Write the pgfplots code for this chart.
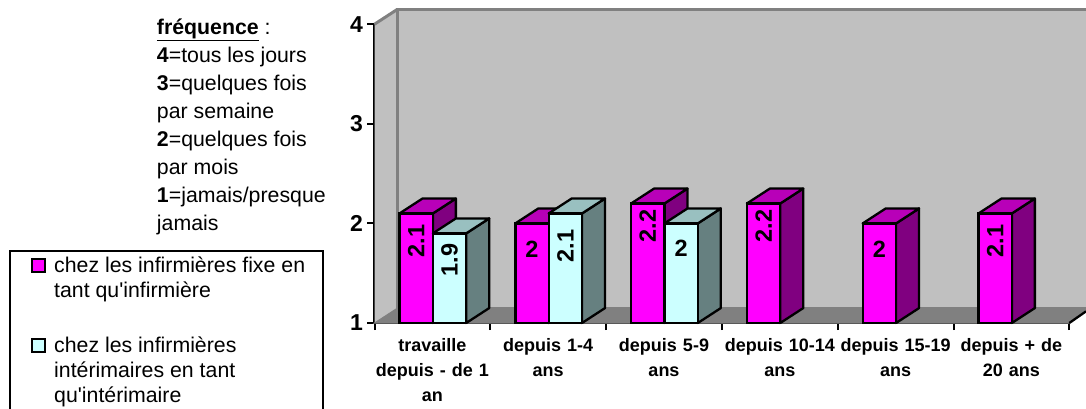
\documentclass[border=0pt]{standalone}
\usepackage{pgfplots}
\pgfplotsset{compat=1.18}
\usepackage{fontspec}
\setmainfont{Liberation Sans}
\newfontfamily\plainfont{Liberation Sans}
\definecolor{wall}{HTML}{C0C0C0}
\definecolor{floorc}{HTML}{808080}
\definecolor{mfront}{HTML}{FF00FF}
\definecolor{mside}{HTML}{800080}
\definecolor{mtop}{HTML}{B800B8}
\definecolor{cfront}{HTML}{CCFFFF}
\definecolor{cside}{HTML}{668080}
\definecolor{ctop}{HTML}{99C0C0}
\pgfmathsetmacro\dx{0.1986}
\pgfmathsetmacro\dy{0.15}
% #1 left x, #2 right x, #3 value, #4 side colour, #5 top colour
\newcommand\depthfaces[5]{%
  \pgfmathsetmacro\xa{#1+\dx}\pgfmathsetmacro\xb{#2+\dx}\pgfmathsetmacro\vb{#3+\dy}\pgfmathsetmacro\fb{1+\dy}%
  \addplot[forget plot,mark=none,draw=black,line width=2.3pt,line join=round,fill=#4] coordinates {(#2,1) (\xb,\fb) (\xb,\vb) (#2,#3)} -- cycle;
  \addplot[forget plot,mark=none,draw=black,line width=2.3pt,line join=round,fill=#5] coordinates {(#1,#3) (#2,#3) (\xb,\vb) (\xa,\vb)} -- cycle;
}
\begin{document}
\begin{tikzpicture}[x=1pt,y=1pt]
\path[use as bounding box] (0,0) rectangle (1086,408);
\begin{axis}[
  at={(374.5pt,85pt)},anchor=south west,
  scale only axis,width=694.8pt,height=298.8pt,
  xmin=0,xmax=6,ymin=1,ymax=4,
  clip=false,
  y coord trafo/.code={\pgfmathparse{#1-1}},
  y coord inv trafo/.code={\pgfmathparse{#1+1}},
  axis x line*=bottom,axis y line*=left,
  axis line style={black,line width=2.3pt,-},
  xtick={0,1,2,3,4,5,6},
  x tick label as interval,
  xticklabels={{travaille\\depuis - de 1\\an},{depuis 1-4\\ans},{depuis 5-9\\ans},{depuis 10-14\\ans},{depuis 15-19\\ans},{depuis + de\\20 ans}},
  ytick={1,2,3,4},
  yticklabels={1,2,3,4},
  tick align=outside,tickpos=left,
  major tick length=7pt,
  tick style={black,line width=2pt},
  xticklabel style={align=center,text width=116pt,font=\fontsize{18}{25}\selectfont\bfseries,yshift=-5pt},
  yticklabel style={font=\fontsize{23}{24}\selectfont\bfseries,xshift=-1pt},
  legend cell align=left,
  legend style={at={(axis cs:-3.156,1.733)},anchor=north west,draw=black,line width=2.3pt,
    inner xsep=0pt,inner ysep=6pt,
    /tikz/column sep=0pt,/tikz/row sep=35pt,
    nodes={inner sep=0pt,anchor=base west,text depth=,text height=}},
]
% walls and floor
\addplot[forget plot,mark=none,draw=none,fill=wall] coordinates {(0.1986,1.15) (6.144,1.15) (6.144,4.15) (0.1986,4.15)} -- cycle;
\addplot[forget plot,mark=none,draw=none,fill=wall] coordinates {(0,1) (0.1986,1.15) (0.1986,4.15) (0,4)} -- cycle;
\addplot[forget plot,mark=none,draw=floorc,line width=3pt] coordinates {(6.144,4.15) (0.1986,4.15) (0.1986,1.15) (6.144,1.15)};
\addplot[forget plot,mark=none,draw=floorc,line width=3pt] coordinates {(0,4) (0.1986,4.15)};
\addplot[forget plot,mark=none,draw=floorc,fill=floorc,line width=1pt] coordinates {(0,1) (6,1) (6.144,1.117) (6.144,1.15) (0.1986,1.15)} -- cycle;
\addplot[forget plot,mark=none,draw=black,line width=2.3pt] coordinates {(6,1) (6.144,1.117)};
% first series
\depthfaces{0.216}{0.504}{2.1}{mside}{mtop}
\depthfaces{1.216}{1.504}{2}{mside}{mtop}
\depthfaces{2.216}{2.504}{2.2}{mside}{mtop}
\depthfaces{3.216}{3.504}{2.2}{mside}{mtop}
\depthfaces{4.216}{4.504}{2}{mside}{mtop}
\depthfaces{5.216}{5.504}{2.1}{mside}{mtop}
\addplot[ybar,bar width=33.3pt,bar shift=-16.65pt,draw=black,line width=2.3pt,fill=mfront,
  legend image code/.code={\draw[black,line width=2pt,fill=mfront] (22pt,0.5pt) rectangle (35pt,13.5pt);\path[draw=none,fill=none] (0,0) -- (44pt,0);}]
  coordinates {(0.504,2.1) (1.504,2) (2.504,2.2) (3.504,2.2) (4.504,2) (5.504,2.1)};
\addlegendentry{\parbox[t]{269pt}{\fontsize{21.3}{25}\selectfont\raggedright chez les infirmières fixe en\\tant qu{\plainfont'}infirmière}}
% second series
\depthfaces{0.504}{0.792}{1.9}{cside}{ctop}
\depthfaces{1.504}{1.792}{2.1}{cside}{ctop}
\depthfaces{2.504}{2.792}{2}{cside}{ctop}
\addplot[ybar,bar width=33.3pt,bar shift=16.65pt,draw=black,line width=2.3pt,fill=cfront,
  legend image code/.code={\draw[black,line width=2pt,fill=cfront] (22pt,0.5pt) rectangle (35pt,13.5pt);\path[draw=none,fill=none] (0,0) -- (44pt,0);}]
  coordinates {(0.504,1.9) (1.504,2.1) (2.504,2)};
\addlegendentry{\parbox[t]{269pt}{\fontsize{21.3}{25}\selectfont\raggedright chez les infirmières\\intérimaires en tant\\qu{\plainfont'}intérimaire\rule[-40pt]{0pt}{40pt}}}
% value labels
\tikzset{vl/.style={font=\fontsize{23.5}{24}\selectfont\bfseries,inner sep=0pt}}
\node[vl,rotate=90] at (axis cs:0.36,1.823) {2.1};
\node[vl,rotate=90] at (axis cs:0.648,1.633) {1.9};
\node[vl] at (axis cs:1.36,1.743) {2};
\node[vl,rotate=90] at (axis cs:1.648,1.773) {2.1};
\node[vl,rotate=90] at (axis cs:2.36,1.974) {2.2};
\node[vl] at (axis cs:2.648,1.753) {2};
\node[vl,rotate=90] at (axis cs:3.36,1.974) {2.2};
\node[vl] at (axis cs:4.36,1.743) {2};
\node[vl,rotate=90] at (axis cs:5.36,1.823) {2.1};
% note
\node[anchor=base west,inner sep=0pt] at (axis cs:-1.88,3.90) {\parbox[t]{175pt}{\fontsize{21.3}{28}\selectfont\raggedright
  \underline{\textbf{fréquence}} :\\\textbf{4}=tous les jours\\\textbf{3}=quelques fois\\par semaine\\\textbf{2}=quelques fois\\par mois\\\textbf{1}=jamais/presque\\jamais}};
\end{axis}
\end{tikzpicture}
\end{document}
